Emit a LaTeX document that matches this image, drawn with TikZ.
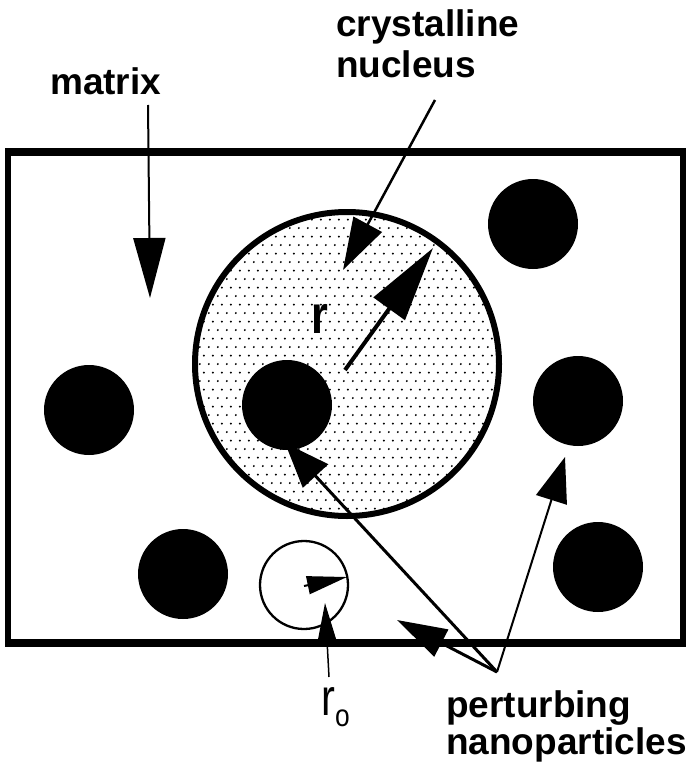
\documentclass[tikz,border=0pt]{standalone}
\usepackage{fontspec}
\setmainfont{Liberation Sans}
\usepackage{graphicx}
\usetikzlibrary{arrows.meta,patterns.meta}

\tikzdeclarepattern{
  name=stipple, type=uncolored,
  bounding box={(0pt,0pt) and (9pt,17.4pt)},
  tile size={(9pt,17.4pt)},
  code={
    \pgfpathcircle{\pgfpoint{2pt}{2pt}}{1.15pt}
    \pgfpathcircle{\pgfpoint{6.5pt}{10.7pt}}{1.15pt}
    \pgfusepath{fill}
  }
}

\begin{document}
\begin{tikzpicture}[x=1pt,y=-1pt,
  lbl/.style={inner sep=0pt, font=\fontsize{37}{41}\selectfont\bfseries},
  rlbl/.style={inner sep=0pt, font=\fontsize{54}{54}\selectfont\bfseries},
  particle/.style={circle, fill=black, draw=none, minimum size=90pt, inner sep=0pt},
  nucleusbody/.style={circle, draw=black, line width=6pt, pattern=stipple, minimum size=304pt, inner sep=0pt},
  probe/.style={circle, draw=black, line width=2.3pt, fill=white, minimum size=88pt, inner sep=0pt},
  frame/.style={draw=black, line width=6pt},
  lead/.style={draw=black, line width=#1},
]
\useasboundingbox (0,0) rectangle (688,762);
\fill[white] (0,0) rectangle (688,762);

% matrix frame
\draw[frame] (8,152) rectangle (683,643);
\draw[line width=8pt] (5,152) -- (686,152);
\draw[line width=8pt] (5,643) -- (686,643);

% crystalline nucleus
\node[nucleusbody] (nuc) at (347,364) {};

% nanoparticles
\node[particle] (p1) at (89,410) {};
\node[particle] (p2) at (287,405) {};
\node[particle] (p3) at (533,224) {};
\node[particle] (p4) at (578,401) {};
\node[particle] (p5) at (183,574) {};
\node[particle] (p6) at (598,567) {};

% small critical nucleus r_o
\node[probe] (sm) at (304,585) {};

% labels
\node[lbl, anchor=base west] (mat) at (50,95) {matrix};
\node[lbl, anchor=base west] (cn) at (336,37) {\begin{tabular}[t]{@{}l@{}}crystalline\\nucleus\end{tabular}};
\node[lbl, anchor=base west, font=\fontsize{37}{36}\selectfont\bfseries] (pn) at (446,717) {\begin{tabular}[t]{@{}l@{}}perturbing\\nanoparticles\end{tabular}};
\node[rlbl, anchor=base] (rl) at (320,333) {\scalebox{0.8}[1]{r}};
\node[inner sep=0pt, anchor=base west, font=\fontsize{52}{52}\selectfont] (rol) at (321,715) {\scalebox{0.8}[1]{r}\raisebox{-11pt}{\fontsize{31}{31}\selectfont\scalebox{0.85}[1]{o}}};

% coordinates for arrow ends
\coordinate (matS) at (148,105);
\coordinate (matT) at (150,298);
\coordinate (cnS) at (435,100);
\coordinate (cnT) at (343,270);
\coordinate (rS) at (345,370);
\coordinate (rT) at (433,248);
\coordinate (roS) at (304,586);
\coordinate (roT) at (347,577);
\coordinate (rolS) at (329,677);
\coordinate (rolT) at (325,603);
\coordinate (pc) at (497,672);
\coordinate (pT1) at (285,443);
\coordinate (pT2) at (397,620);
\coordinate (pT3) at (565,457);

% arrows
\draw[lead=2pt, -{Triangle[length=60pt,width=32pt]}] (matS) -- (matT);
\draw[lead=2.5pt, -{Triangle[length=52pt,width=32pt]}] (cnS) -- (cnT);
\draw[lead=4pt, -{Triangle[length=75pt,width=38pt]}] (rS) -- (rT);
\draw[lead=2pt, -{Triangle[length=40pt,width=18pt]}] (roS) -- (roT);
\draw[lead=1.5pt, -{Triangle[length=37pt,width=18pt]}] (rolS) -- (rolT);
\draw[lead=3pt, -{Triangle[length=45pt,width=34pt]}] (pc) -- (pT1);
\draw[lead=3pt, -{Triangle[length=50pt,width=30pt]}] (pc) -- (pT2);
\draw[lead=2pt, -{Triangle[length=45pt,width=32pt]}] (pc) -- (pT3);
\end{tikzpicture}
\end{document}
